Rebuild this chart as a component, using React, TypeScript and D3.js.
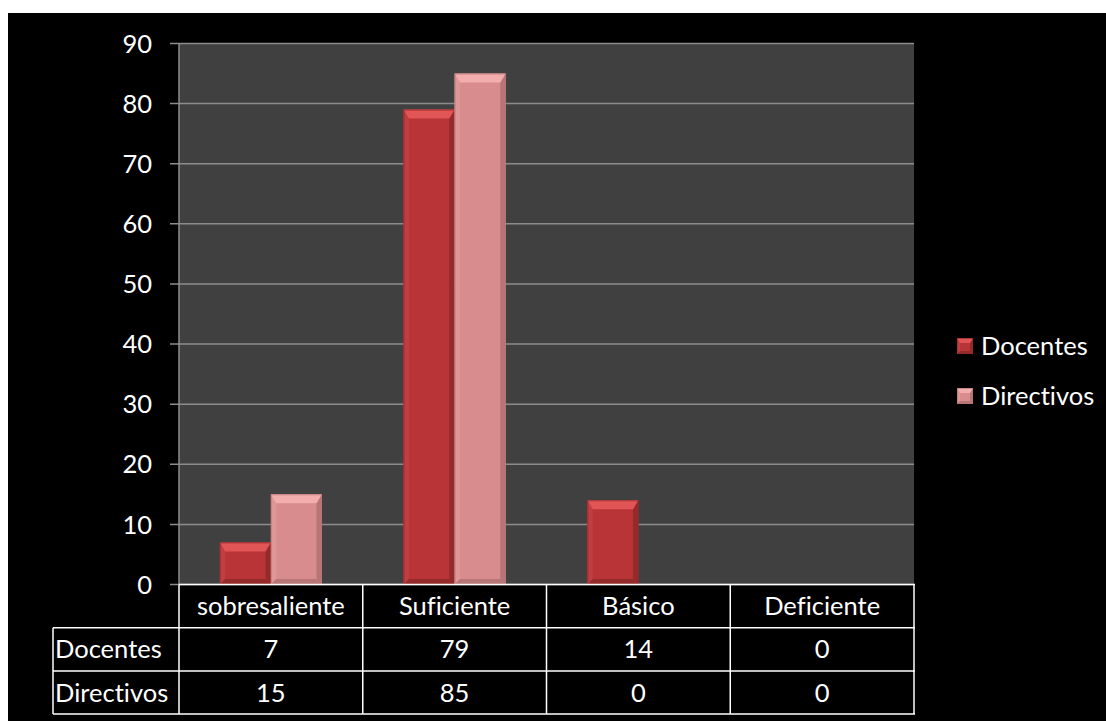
import * as d3 from "d3";
import { useEffect, useRef } from "react";

const categories = ["sobresaliente", "Suficiente", "Básico", "Deficiente"];
const seriesNames = ["Docentes", "Directivos"];
const docentes = [7, 79, 14, 0];
const directivos = [15, 85, 0, 0];
const yTicks = [0, 10, 20, 30, 40, 50, 60, 70, 80, 90];

const W = 1106;
const H = 721;
const FONT = "Lato, 'Open Sans', sans-serif";
const FS = 25.5;

const palette: Record<string, { main: string; light: string; side: string; dark: string }> = {
  Docentes: { main: "#b93436", light: "#e25556", side: "#c23d3f", dark: "#952a2a" },
  Directivos: { main: "#d98c8d", light: "#f2adad", side: "#df9697", dark: "#b87576" },
};

// beveled box like the office "bevel" bar style
function bevelBox(
  g: d3.Selection<SVGGElement, unknown, null, undefined>,
  x: number,
  y: number,
  w: number,
  h: number,
  c: { main: string; light: string; side: string; dark: string },
  b: number
) {
  const bb = Math.min(b, w / 2, h / 2);
  const sb = bb * 0.6;
  g.append("rect").attr("x", x).attr("y", y).attr("width", w).attr("height", h).attr("fill", c.main);
  const poly = (pts: [number, number][], fill: string) =>
    g.append("polygon").attr("points", pts.map((p) => p.join(",")).join(" ")).attr("fill", fill);
  poly([[x, y], [x + sb, y + bb], [x + sb, y + h - sb], [x, y + h]], c.side);
  poly([[x + w, y], [x + w, y + h], [x + w - sb, y + h - sb], [x + w - sb, y + bb]], c.dark);
  poly([[x, y + h], [x + sb, y + h - sb], [x + w - sb, y + h - sb], [x + w, y + h]], c.dark);
  poly([[x, y], [x + w, y], [x + w - sb, y + bb], [x + sb, y + bb]], c.light);
  g.append("rect")
    .attr("x", x + 0.5)
    .attr("y", y + 0.5)
    .attr("width", w - 1)
    .attr("height", h - 1)
    .attr("fill", "none")
    .attr("stroke", c.dark)
    .attr("stroke-opacity", 0.7);
}

const App = () => {
  const ref = useRef<SVGSVGElement | null>(null);

  useEffect(() => {
    if (!ref.current) return;
    const svg = d3.select(ref.current);
    svg.selectAll("*").remove();

    const plot = { left: 179, right: 914, top: 43.5, bottom: 584.5 };
    const rowH = 43.2;
    const labelLeft = 53;

    svg.append("rect").attr("width", W).attr("height", H).attr("fill", "#ffffff");
    svg.append("rect").attr("x", 8).attr("y", 13).attr("width", W - 8).attr("height", H - 13).attr("fill", "#000");

    const y = d3.scaleLinear().domain([0, 90]).range([plot.bottom, plot.top]);
    const x0 = d3.scaleBand<string>().domain(categories).range([plot.left, plot.right]);
    const x1 = d3
      .scaleBand<string>()
      .domain(seriesNames)
      .range([0, x0.bandwidth()])
      .paddingInner(0)
      .paddingOuter(0.8);

    svg
      .append("rect")
      .attr("x", plot.left)
      .attr("y", plot.top)
      .attr("width", plot.right - plot.left)
      .attr("height", plot.bottom - plot.top)
      .attr("fill", "#404040");

    const txt = (sel: d3.Selection<SVGTextElement, unknown, null, undefined>) =>
      sel
        .attr("fill", "#fff")
        .attr("font-family", FONT)
        .attr("font-size", FS)
        .style("font-variant-ligatures", "none");

    // gridlines + ticks
    const grid = svg.append("g");
    yTicks.forEach((t) => {
      grid
        .append("line")
        .attr("x1", plot.left - 9)
        .attr("x2", plot.right)
        .attr("y1", y(t))
        .attr("y2", y(t))
        .attr("stroke", "#8c8c8c")
        .attr("stroke-width", 1.5);
      grid
        .append("text")
        .attr("x", 152)
        .attr("y", y(t))
        .attr("dy", "0.36em")
        .attr("text-anchor", "end")
        .call(txt)
        .text(t);
    });
    grid
      .append("line")
      .attr("x1", plot.left)
      .attr("x2", plot.left)
      .attr("y1", plot.top)
      .attr("y2", plot.bottom)
      .attr("stroke", "#8c8c8c")
      .attr("stroke-width", 1.5);

    // bars
    const bars = svg.append("g");
    const seriesValues: Record<string, number[]> = { Docentes: docentes, Directivos: directivos };
    seriesNames.forEach((s) => {
      categories.forEach((c, i) => {
        const v = seriesValues[s][i];
        if (v <= 0) return;
        const bx = x0(c)! + x1(s)!;
        bevelBox(bars, bx, y(v), x1.bandwidth(), y(0) - y(v), palette[s], 9);
      });
    });

    // data table
    const tbl = svg.append("g");
    const line = (xa: number, ya: number, xb: number, yb: number) =>
      tbl
        .append("line")
        .attr("x1", xa)
        .attr("y1", ya)
        .attr("x2", xb)
        .attr("y2", yb)
        .attr("stroke", "#fff")
        .attr("stroke-width", 1.5);
    const r0 = plot.bottom;
    const r1 = r0 + rowH;
    const r2 = r1 + rowH;
    const r3 = r2 + rowH;
    line(plot.left, r0, plot.right + 1, r0);
    line(labelLeft, r1, plot.right + 1, r1);
    line(labelLeft, r2, plot.right + 1, r2);
    line(labelLeft, r3, plot.right + 1, r3);
    line(labelLeft, r1, labelLeft, r3);
    line(plot.left, r0, plot.left, r3);
    categories.forEach((c) => {
      const xr = Math.min(x0(c)! + x0.bandwidth(), plot.right + 1);
      line(xr, r0, xr, r3);
    });
    const cell = (xc: number, yc: number, s: string | number, anchor = "middle") =>
      tbl.append("text").attr("x", xc).attr("y", yc).attr("dy", "0.36em").attr("text-anchor", anchor).call(txt).text(s);
    categories.forEach((c, i) => {
      const cx = x0(c)! + x0.bandwidth() / 2;
      cell(cx, (r0 + r1) / 2, c);
      cell(cx, (r1 + r2) / 2, docentes[i]);
      cell(cx, (r2 + r3) / 2, directivos[i]);
    });
    seriesNames.forEach((s, i) => {
      const ym = i === 0 ? (r1 + r2) / 2 : (r2 + r3) / 2;
      cell(labelLeft + 2, ym, s, "start");
    });

    // legend
    const leg = svg.append("g");
    seriesNames.forEach((s, i) => {
      const ly = 346 + i * 50;
      bevelBox(leg, 957, ly - 8, 16, 16, palette[s], 5);
      leg.append("text").attr("x", 981).attr("y", ly).attr("dy", "0.36em").call(txt).text(s);
    });
  }, []);

  return (
    <svg
      ref={ref}
      width={W}
      height={H}
      style={{ position: "absolute", left: 0, top: 0, display: "block" }}
    />
  );
};

export default App;
